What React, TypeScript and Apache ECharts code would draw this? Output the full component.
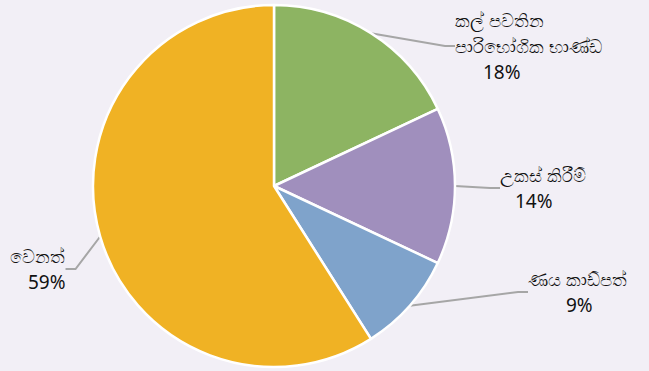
import React, { useEffect, useRef } from "react";
import * as echarts from "echarts";

const categories = ["කල් පවතින\nපාරිභෝගික භාණ්ඩ", "උකස් කිරීම්", "ණය කාඩ්පත්", "වෙනත්"];
const values = [18, 14, 9, 59];
const colors = ["#8db462", "#a08fbd", "#7fa3cb", "#f0b224"];

// label anchor positions (top-left of each label block) and indent of the percent line
const labelPos = [
  { x: 455, y: 7, indent: 28 },
  { x: 500, y: 162, indent: 15 },
  { x: 528, y: 266, indent: 38 },
  { x: 10, y: 243, indent: 18 },
];

export default function App() {
  const ref = useRef<HTMLDivElement>(null);
  useEffect(() => {
    if (!ref.current) return;
    const chart = echarts.init(ref.current, undefined, { renderer: "svg" });
    const txt = { color: "#111111", fontFamily: "Noto Sans, sans-serif", lineHeight: 26 };
    chart.setOption({
      animation: false,
      backgroundColor: "#f2eff6",
      series: [
        {
          type: "pie",
          center: [274, 186],
          radius: 181,
          startAngle: 90,
          clockwise: true,
          avoidLabelOverlap: false,
          itemStyle: { borderColor: "#ffffff", borderWidth: 2.5 },
          label: {
            show: true,
            ...txt,
            fontSize: 18,
            align: "left",
            formatter: (p: any) => {
              const lines = String(p.name).split("\n").map((l: string) => `{n|${l}}`);
              return lines.join("\n") + `\n{p${p.dataIndex}|${p.percent}%}`;
            },
            rich: {
              n: { ...txt, fontSize: 18 },
              p0: { ...txt, fontSize: 19, padding: [0, 0, 0, labelPos[0].indent] },
              p1: { ...txt, fontSize: 19, padding: [0, 0, 0, labelPos[1].indent] },
              p2: { ...txt, fontSize: 19, padding: [0, 0, 0, labelPos[2].indent] },
              p3: { ...txt, fontSize: 19, padding: [0, 0, 0, labelPos[3].indent] },
            },
          },
          labelLine: {
            show: true,
            length: 12,
            length2: 10,
            lineStyle: { color: "#a6a6a6", width: 2 },
          },
          labelLayout: (params: any) => {
            const pos = labelPos[params.dataIndex];
            return { x: pos.x, y: pos.y, align: "left", verticalAlign: "top" };
          },
          data: categories.map((c, i) => ({
            name: c,
            value: values[i],
            itemStyle: { color: colors[i] },
          })),
        },
      ],
    });
    return () => chart.dispose();
  }, []);
  return (
    <div
      ref={ref}
      style={{ position: "fixed", left: 0, top: 0, width: 649, height: 371 }}
    />
  );
}
